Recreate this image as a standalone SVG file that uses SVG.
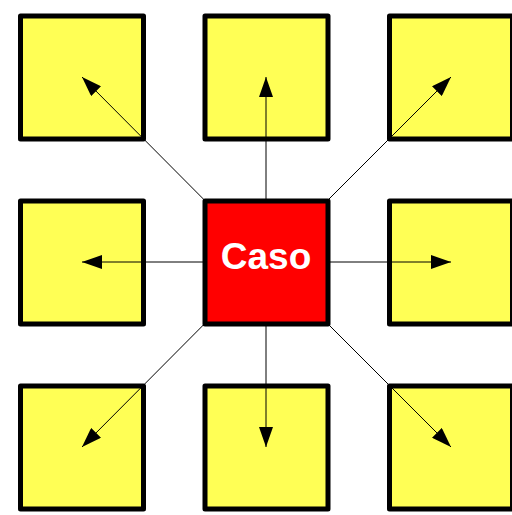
<svg xmlns="http://www.w3.org/2000/svg" width="512" height="515" viewBox="0 0 512 515">
  <style>
    .box { fill: #ffff55; stroke: #000; stroke-width: 5; stroke-linejoin: round; }
    .hub { fill: #ff0000; stroke: #000; stroke-width: 5; stroke-linejoin: round; }
    .link { stroke: #000; stroke-width: 1; fill: none; marker-end: url(#head); }
    .label { font-family: "Liberation Sans", Arial, sans-serif; font-weight: bold; font-size: 37px; fill: #fff; }
  </style>
  <defs>
    <marker id="head" markerUnits="userSpaceOnUse" markerWidth="20" markerHeight="14" refX="20" refY="7" orient="auto">
      <path d="M0,0 L20,7 L0,14 z" fill="#000"/>
    </marker>
  </defs>
  <rect width="512" height="515" fill="#fff"/>

  <g id="n-top-left"><rect class="box" x="20.5" y="16" width="123" height="123"/></g>
  <g id="n-top"><rect class="box" x="205" y="16" width="123" height="123"/></g>
  <g id="n-top-right"><rect class="box" x="389.5" y="16" width="123" height="123"/></g>
  <g id="n-left"><rect class="box" x="20.5" y="201" width="123" height="123"/></g>
  <g id="n-right"><rect class="box" x="389.5" y="201" width="123" height="123"/></g>
  <g id="n-bottom-left"><rect class="box" x="20.5" y="386" width="123" height="123"/></g>
  <g id="n-bottom"><rect class="box" x="205" y="386" width="123" height="123"/></g>
  <g id="n-bottom-right"><rect class="box" x="389.5" y="386" width="123" height="123"/></g>

  <g id="connectors">
    <line class="link" x1="266" y1="262" x2="82" y2="77"/>
    <line class="link" x1="266" y1="262" x2="266" y2="77"/>
    <line class="link" x1="266" y1="262" x2="451" y2="77"/>
    <line class="link" x1="266" y1="262" x2="82" y2="262"/>
    <line class="link" x1="266" y1="262" x2="451" y2="262"/>
    <line class="link" x1="266" y1="262" x2="82" y2="447"/>
    <line class="link" x1="266" y1="262" x2="266" y2="447"/>
    <line class="link" x1="266" y1="262" x2="451" y2="447"/>
  </g>

  <g id="n-caso">
    <rect class="hub" x="205" y="201" width="123" height="123"/>
    <text class="label" x="266" y="269" text-anchor="middle">Caso</text>
  </g>
</svg>
